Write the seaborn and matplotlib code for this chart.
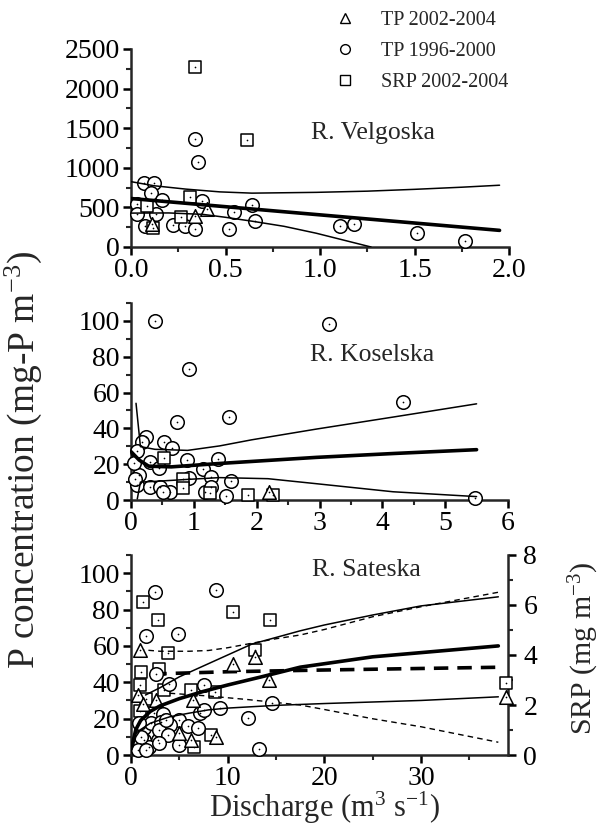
import numpy as np
import pandas as pd
import matplotlib
matplotlib.use("Agg")
import matplotlib.pyplot as plt
import seaborn as sns
from matplotlib.ticker import MultipleLocator, FormatStrFormatter
from matplotlib.lines import Line2D

# ---------------- data ----------------
# R. Velgoska
vel_tp96_x = [0.069, 0.121, 0.107, 0.164, 0.034, 0.031, 0.134, 0.072, 0.224, 0.288, 0.341,
              0.34, 0.357, 0.376, 0.543, 0.638, 0.521, 0.655, 1.106, 1.182, 1.511, 1.768]
vel_tp96_y = [805, 805, 687, 596, 544, 422, 422, 270, 283, 270, 226,
              1360, 1075, 587, 444, 531, 231, 326, 262, 291, 177, 76]
vel_tp02_x = [0.336, 0.40, 0.112]
vel_tp02_y = [391, 478, 296]
vel_srp_x = [0.34, 0.614, 0.31, 0.086, 0.262, 0.116]
vel_srp_y = [2268, 1351, 631, 513, 378, 239]
vel_fit_x = [0.0, 1.95]
vel_fit_y = [612, 210]
vel_up_x = [0.0, 0.12, 0.29, 0.47, 0.64, 0.98, 1.25, 1.5, 1.75, 1.95]
vel_up_y = [825, 774, 731, 696, 680, 690, 705, 728, 755, 780]
vel_lo_x = [0.0, 0.2, 0.38, 0.5, 0.64, 0.81, 0.98, 1.27]
vel_lo_y = [428, 430, 412, 375, 326, 261, 174, 0]

# R. Koselska
kos_tp96_x = [0.38, 3.15, 0.92, 4.33, 5.48, 0.73, 1.56, 0.24, 0.18, 0.53, 0.66, 0.10, 0.31,
              0.89, 1.39, 0.45, 1.14, 0.13, 0.92, 1.27, 1.59, 0.10, 0.31, 0.46, 0.62, 0.51,
              1.18, 1.28, 1.51, 0.05, 0.07]
kos_tp96_y = [100, 98.5, 73, 55, 1.3, 43.4, 46.2, 35.1, 32.6, 32.6, 29.2, 27.4, 21.3,
              22.6, 22.8, 18.1, 17.2, 13.8, 12.2, 12.8, 10.6, 8.1, 7.2, 7.2, 4.7, 4.3,
              4.3, 7.5, 2.1, 20.4, 12.0]
kos_tp02_x = [2.19]
kos_tp02_y = [4.7]
kos_srp_x = [0.52, 0.82, 0.82, 1.26, 1.87, 2.26]
kos_srp_y = [23.4, 11.8, 6.6, 3.7, 2.8, 2.8]
kos_fit_x = [0.0, 0.13, 0.28, 0.64, 1.41, 2.95, 4.2, 5.5]
kos_fit_y = [27, 22.3, 18.9, 18.5, 20.4, 23.8, 26.0, 28.1]
kos_up_x = [0.08, 0.15, 0.38, 0.9, 1.41, 1.92, 2.95, 4.17, 5.5]
kos_up_y = [54, 29.8, 28.3, 27.7, 30.2, 33.6, 39.6, 46.3, 53.7]
kos_lo_x = [0.1, 0.15, 0.38, 0.9, 1.41, 2.18, 2.95, 4.17, 5.5]
kos_lo_y = [0.6, 10, 10.4, 11.5, 12.5, 11.9, 9.1, 4.6, 1.9]

# R. Sateska (TP on left axis, SRP on right axis)
sat_tp96_x = [2.5, 8.8, 1.6, 4.9, 2.6, 3.9, 7.6, 7.1, 7.5, 9.2, 14.6, 12.1, 3.3, 5.0, 4.0,
              5.85, 6.9, 2.75, 5.0, 13.2, 1.37, 2.06, 3.1, 1.37, 1.9, 2.9, 3.8, 1.03, 0.69,
              1.55, 2.9, 0.86, 3.6]
sat_tp96_y = [89.4, 91, 65.6, 66.8, 44.3, 38.8, 38.3, 23.3, 25, 26, 28.8, 20.4, 22.5, 19.2,
              16.5, 15.9, 14.7, 8.2, 5.5, 3.1, 14.7, 17.4, 18.3, 8.2, 4.6, 13.7, 11, 10, 2.7,
              2.7, 6.4, 17.4, 19.2]
sat_tp02_x = [0.9, 12.8, 10.5, 14.3, 6.4, 2.6, 5.0, 6.2, 8.8, 38.8, 0.7, 1.2]
sat_tp02_y = [58, 53.7, 50, 41, 30.4, 30.2, 11.9, 8.2, 10, 32, 33, 28]
sat_srp_x = [1.2, 2.75, 10.6, 14.4, 3.8, 12.8, 1.0, 2.9, 0.96, 3.4, 6.2, 8.7, 0.9, 2.4,
             1.6, 8.25, 6.5, 38.8]
sat_srp_y = [6.12, 5.40, 5.72, 5.42, 4.09, 4.22, 3.31, 3.46, 2.79, 2.62, 2.60, 2.52, 1.77,
             1.67, 2.25, 0.80, 0.31, 2.89]
sat_fit_x = [0.1, 0.5, 1, 2, 3, 5, 7.5, 10, 13.5, 17.5, 25, 38]
sat_fit_y = [5, 14, 19, 24, 27, 31, 35, 38.5, 43, 48.3, 54, 60]
sat_up_x = [1.5, 3, 5, 7.5, 10, 12.5, 17.5, 20, 25, 30, 38]
sat_up_y = [33, 37, 43, 49, 55, 61, 68.3, 71.5, 77, 82, 87]
sat_lo_x = [0.1, 0.5, 1, 2, 4, 6, 8, 10, 15, 20, 30, 38]
sat_lo_y = [3, 10, 14, 17.5, 21, 23, 24.8, 25.8, 27.3, 28.3, 30, 32]
sat_srpfit_x = [2.2, 10, 20, 38]
sat_srpfit_y = [3.24, 3.33, 3.40, 3.51]
sat_srpup_x = [0.8, 3, 6, 8, 10, 12.5, 15, 17.5, 20, 25, 30, 38]
sat_srpup_y = [4.22, 4.15, 4.15, 4.18, 4.29, 4.47, 4.65, 4.80, 5.02, 5.53, 5.93, 6.51]
sat_srplo_x = [4, 8, 12, 17.5, 20, 25, 30, 38]
sat_srplo_y = [2.47, 2.36, 2.22, 2.0, 1.82, 1.45, 1.13, 0.51]

legend_labels = ["TP 2002-2004", "TP 1996-2000", "SRP 2002-2004"]

# ---------------- style ----------------
sns.set_style("ticks")
plt.rcParams["font.family"] = ["Liberation Serif", "DejaVu Serif"]
plt.rcParams["mathtext.fontset"] = "custom"
plt.rcParams["mathtext.rm"] = "Liberation Serif"
plt.rcParams["mathtext.default"] = "regular"

W, H = 601, 830
fig = plt.figure(figsize=(W / 100, H / 100), dpi=100)


def rect(l, r, t, b):
    return [l / W, 1 - b / H, (r - l) / W, (b - t) / H]


ax1 = fig.add_axes(rect(131, 509, 49, 247))
ax2 = fig.add_axes(rect(131, 508, 303, 500))
ax3 = fig.add_axes(rect(131, 508, 555, 755))
ax3r = ax3.twinx()

MS = {"o": 95, "s": 75, "^": 95}


def pts(ax, x, y, marker):
    sns.scatterplot(x=x, y=y, marker=marker, s=MS[marker], color="white",
                    edgecolor="black", linewidth=1.1, ax=ax, zorder=3,
                    clip_on=False, legend=False)
    sns.scatterplot(x=x, y=y, marker="o", s=1.5, color="black", linewidth=0,
                    ax=ax, zorder=4, clip_on=False, legend=False)


def line(ax, x, y, lw, ls="-"):
    sns.lineplot(x=x, y=y, color="black", linewidth=lw, linestyle=ls, ax=ax,
                 estimator=None, sort=False, zorder=5, legend=False)


# Velgoska
line(ax1, vel_up_x, vel_up_y, 1.1)
line(ax1, vel_lo_x, vel_lo_y, 1.1)
line(ax1, vel_fit_x, vel_fit_y, 2.6)
pts(ax1, vel_tp96_x, vel_tp96_y, "o")
pts(ax1, vel_srp_x, vel_srp_y, "s")
pts(ax1, vel_tp02_x, vel_tp02_y, "^")

# Koselska
line(ax2, kos_up_x, kos_up_y, 1.1)
line(ax2, kos_lo_x, kos_lo_y, 1.1)
line(ax2, kos_fit_x, kos_fit_y, 2.6)
pts(ax2, kos_tp96_x, kos_tp96_y, "o")
pts(ax2, kos_srp_x, kos_srp_y, "s")
pts(ax2, kos_tp02_x, kos_tp02_y, "^")

# Sateska
line(ax3, sat_up_x, sat_up_y, 1.1)
line(ax3, sat_lo_x, sat_lo_y, 1.1)
line(ax3, sat_fit_x, sat_fit_y, 2.6)
pts(ax3, sat_tp96_x, sat_tp96_y, "o")
pts(ax3, sat_tp02_x, sat_tp02_y, "^")
line(ax3r, sat_srpup_x, sat_srpup_y, 1.0, (0, (4, 3)))
line(ax3r, sat_srplo_x, sat_srplo_y, 1.0, (0, (4, 3)))
line(ax3r, sat_srpfit_x, sat_srpfit_y, 2.6, (0, (4, 2.5)))
pts(ax3r, sat_srp_x, sat_srp_y, "s")

# axes formatting
ax1.set_xlim(0, 2.0); ax1.set_ylim(0, 2500)
ax1.xaxis.set_major_locator(MultipleLocator(0.5)); ax1.xaxis.set_minor_locator(MultipleLocator(0.25))
ax1.yaxis.set_major_locator(MultipleLocator(500)); ax1.yaxis.set_minor_locator(MultipleLocator(250))
ax1.xaxis.set_major_formatter(FormatStrFormatter("%.1f"))

ax2.set_xlim(0, 6); ax2.set_ylim(0, 110)
ax2.xaxis.set_major_locator(MultipleLocator(1)); ax2.xaxis.set_minor_locator(MultipleLocator(0.5))
ax2.yaxis.set_major_locator(MultipleLocator(20)); ax2.yaxis.set_minor_locator(MultipleLocator(10))

ax3.set_xlim(0, 39); ax3.set_ylim(0, 110)
ax3.xaxis.set_major_locator(MultipleLocator(10)); ax3.xaxis.set_minor_locator(MultipleLocator(5))
ax3.yaxis.set_major_locator(MultipleLocator(20)); ax3.yaxis.set_minor_locator(MultipleLocator(10))
ax3r.set_ylim(0, 8)
ax3r.yaxis.set_major_locator(MultipleLocator(2)); ax3r.yaxis.set_minor_locator(MultipleLocator(1))

for ax in (ax1, ax2, ax3, ax3r):
    ax.set_xlabel(""); ax.set_ylabel("")
    ax.spines["top"].set_visible(False)
    for sp in ax.spines.values():
        sp.set_linewidth(1.8)
    ax.tick_params(which="major", direction="out", length=6, width=1.8,
                   labelsize=20, pad=2, colors="black")
    ax.tick_params(which="minor", direction="out", length=3.5, width=1.5)
for ax in (ax1, ax2, ax3):
    ax.spines["right"].set_visible(False)
ax3r.spines["left"].set_visible(False)
ax3r.spines["bottom"].set_visible(False)
ax3r.tick_params(which="major", pad=5)
ax3.set_zorder(ax3r.get_zorder() + 1)
ax3.patch.set_visible(False)

# panel titles
ax1.text(0.64, 0.575, "R. Velgoska", transform=ax1.transAxes, ha="center", va="center", fontsize=18.5)
ax2.text(0.64, 0.735, "R. Koselska", transform=ax2.transAxes, ha="center", va="center", fontsize=18.5)
ax3.text(0.625, 0.925, "R. Sateska", transform=ax3.transAxes, ha="center", va="center", fontsize=18.5)

# axis labels
fig.text(23 / W, 1 - 460 / H, "P concentration (mg-P m$^{-3}$)", rotation=90,
         ha="center", va="center", fontsize=27)
fig.text(324 / W, 1 - 808 / H, "Discharge (m$^{3}$ s$^{-1}$)", ha="center", va="center", fontsize=22)
fig.text(584 / W, 1 - 648 / H, "SRP (mg m$^{-3}$)", rotation=90, ha="center", va="center", fontsize=21.5)

# legend
handles = [Line2D([], [], marker=m, linestyle="None", markerfacecolor="white",
                  markeredgecolor="black", markeredgewidth=1.0, markersize=7)
           for m in ("^", "o", "s")]
fig.legend(handles, legend_labels, loc="upper left", bbox_to_anchor=(335 / W, 1 - 11 / H),
           frameon=False, fontsize=14.5, handlelength=1.0, handletextpad=1.3,
           labelspacing=0.58, borderpad=0, borderaxespad=0)

fig.savefig("out.png", dpi=100)
